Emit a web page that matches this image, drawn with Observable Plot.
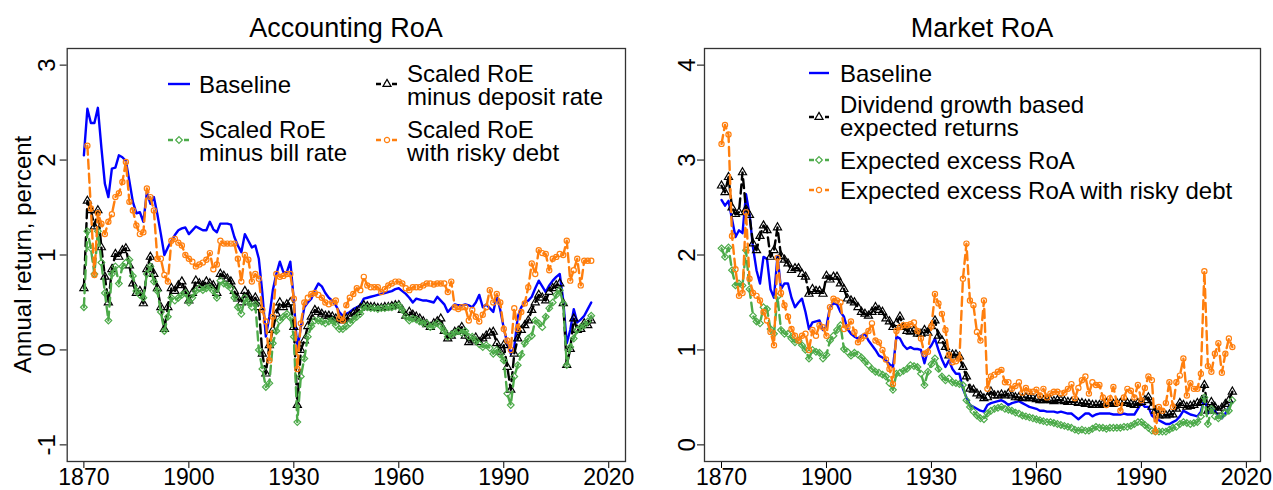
<!DOCTYPE html>
<html><head><meta charset="utf-8">
<script src="https://cdn.jsdelivr.net/npm/d3@7"></script>
<script src="https://cdn.jsdelivr.net/npm/@observablehq/plot@0.6"></script>
<style>
body{margin:0;background:#fff;}
#wrap{display:flex;width:1273px;height:490px;overflow:hidden;}
#wrap svg{font-family:"Liberation Sans",Arial,sans-serif;display:block;overflow:visible;}
</style></head><body><div id="wrap"></div>
<script>
// ---------- DATA ----------
const xTicks = [1870, 1900, 1930, 1960, 1990, 2020];
const accYTicks = [-1, 0, 1, 2, 3];
const mktYTicks = [0, 1, 2, 3, 4];

// Accounting RoA, annual 1870-2015
const accStart = 1870;
const accBaseline = [
 2.05,2.54,2.39,2.39,2.55,2.13,1.75,1.61,1.91,1.92,
 2.05,2.03,1.99,1.78,1.56,1.44,1.45,1.35,1.66,1.54,
 1.61,1.43,1.22,1.00,1.08,1.15,1.21,1.26,1.28,1.29,
 1.22,1.26,1.30,1.28,1.26,1.26,1.35,1.27,1.24,1.33,
 1.33,1.33,1.32,1.19,1.10,1.03,1.22,1.15,1.08,1.10,
 0.96,0.60,0.14,0.35,0.63,0.80,0.93,0.82,0.82,0.93,
 0.52,0.00,0.24,0.45,0.50,0.54,0.63,0.70,0.67,0.60,
 0.55,0.52,0.47,0.40,0.36,0.38,0.40,0.43,0.45,0.47,
 0.54,0.55,0.56,0.57,0.58,0.59,0.60,0.61,0.62,0.64,
 0.65,0.62,0.59,0.55,0.50,0.54,0.53,0.52,0.52,0.51,
 0.50,0.56,0.52,0.48,0.40,0.44,0.48,0.47,0.47,0.48,
 0.47,0.45,0.50,0.58,0.45,0.48,0.44,0.40,0.57,0.42,
 0.23,0.07,-0.04,0.03,0.35,0.45,0.50,0.52,0.56,0.65,
 0.73,0.67,0.61,0.68,0.73,0.77,0.80,0.52,0.07,0.21,
 0.43,0.29,0.32,0.36,0.43,0.50];
const accDeposit = [
 0.65,1.57,1.47,1.30,1.47,1.08,0.77,0.50,0.85,1.01,
 0.98,1.05,1.07,0.89,0.70,0.60,0.62,0.49,0.85,0.98,
 0.80,0.65,0.45,0.22,0.45,0.65,0.62,0.68,0.72,0.62,
 0.52,0.60,0.73,0.70,0.68,0.72,0.70,0.68,0.60,0.80,
 0.78,0.75,0.72,0.62,0.54,0.50,0.62,0.58,0.51,0.55,
 0.45,-0.04,-0.25,0.05,0.21,0.38,0.50,0.45,0.48,0.50,
 0.24,-0.58,0.00,0.10,0.25,0.35,0.42,0.40,0.38,0.36,
 0.36,0.35,0.33,0.32,0.31,0.33,0.35,0.38,0.40,0.44,
 0.47,0.46,0.45,0.45,0.44,0.44,0.45,0.45,0.46,0.47,
 0.47,0.42,0.36,0.40,0.37,0.35,0.33,0.30,0.27,0.24,
 0.28,0.30,0.33,0.20,0.12,0.15,0.19,0.20,0.24,0.15,
 0.08,0.10,0.13,0.08,0.12,0.15,0.18,0.19,0.07,-0.02,
 0.05,-0.18,-0.42,-0.04,0.12,0.21,0.26,0.31,0.42,0.50,
 0.58,0.55,0.52,0.61,0.65,0.68,0.70,0.49,-0.16,0.01,
 0.33,0.21,0.22,0.28,0.26,0.31];
const accBill = [
 0.45,1.25,1.07,0.80,1.25,0.92,0.60,0.31,0.80,0.88,
 0.70,0.88,0.92,0.95,0.78,0.62,0.58,0.55,0.80,0.88,
 0.72,0.62,0.40,0.20,0.35,0.55,0.52,0.55,0.58,0.60,
 0.50,0.55,0.62,0.65,0.63,0.65,0.66,0.62,0.55,0.73,
 0.70,0.68,0.65,0.55,0.45,0.38,0.55,0.50,0.45,0.48,
 0.00,-0.20,-0.39,-0.35,0.07,0.20,0.31,0.35,0.38,0.34,
 0.14,-0.76,-0.28,-0.09,0.14,0.25,0.31,0.31,0.30,0.28,
 0.30,0.31,0.26,0.22,0.22,0.25,0.28,0.32,0.35,0.38,
 0.45,0.45,0.44,0.44,0.43,0.44,0.44,0.45,0.45,0.46,
 0.47,0.42,0.35,0.31,0.33,0.32,0.30,0.28,0.28,0.24,
 0.26,0.28,0.25,0.20,0.14,0.16,0.18,0.20,0.18,0.20,
 0.14,0.14,0.10,0.06,0.03,0.05,0.02,-0.04,0.00,-0.05,
 -0.11,-0.46,-0.58,-0.28,-0.16,-0.05,0.07,0.12,0.15,0.31,
 0.28,0.24,0.35,0.44,0.50,0.58,0.63,0.49,-0.16,0.03,
 0.12,0.21,0.24,0.26,0.30,0.36];
const accRiskyStart = 1871;
const accRisky = [
 2.15,1.49,0.79,1.44,1.33,1.22,1.35,1.43,1.61,
 1.65,1.77,1.98,1.56,1.47,1.31,1.22,1.24,1.70,1.61,
 1.47,0.96,0.96,0.79,0.72,1.15,1.17,1.13,1.10,1.00,
 0.96,0.93,0.88,0.90,0.92,0.95,1.02,0.85,0.90,1.15,
 1.12,1.12,1.12,1.12,0.96,0.72,1.00,0.95,0.72,0.80,
 0.75,0.42,0.30,-0.11,0.35,0.80,0.77,0.78,0.80,0.80,
 0.54,-0.20,0.28,0.50,0.55,0.59,0.60,0.58,0.55,0.50,
 0.48,0.50,0.52,0.33,0.31,0.47,0.55,0.59,0.65,0.63,
 0.77,0.68,0.66,0.66,0.66,0.61,0.64,0.68,0.70,0.72,
 0.72,0.70,0.65,0.63,0.66,0.66,0.66,0.68,0.70,0.70,
 0.69,0.70,0.70,0.70,0.61,0.72,0.45,0.43,0.45,0.45,
 0.31,0.42,0.35,0.30,0.37,0.45,0.63,0.50,0.59,0.50,
 0.22,0.10,0.00,0.44,0.22,0.40,0.49,0.66,0.91,0.80,
 1.05,1.02,1.01,0.84,0.96,0.98,1.01,1.00,1.15,0.73,
 0.84,0.96,0.68,0.94,0.94,0.94];

// Market RoA, annual 1870-2016
const mktStart = 1870;
const mktBaseline = [
 2.58,2.52,2.57,2.38,2.19,2.26,2.23,2.64,2.43,2.08,
 1.84,1.70,1.98,1.96,1.64,1.55,1.99,1.64,1.70,1.70,
 1.55,1.45,1.50,1.54,1.40,1.22,1.29,1.30,1.31,1.21,
 1.25,1.45,1.49,1.48,1.40,1.35,1.22,1.17,1.14,1.12,
 1.15,1.17,1.10,1.05,1.00,0.94,0.92,0.89,0.85,0.82,
 1.14,1.12,1.05,1.01,1.03,1.01,1.01,1.00,0.86,1.00,
 1.05,1.12,1.00,0.90,0.82,0.89,0.80,0.75,0.75,0.59,
 0.50,0.42,0.40,0.38,0.36,0.35,0.42,0.44,0.45,0.46,
 0.47,0.45,0.42,0.44,0.45,0.46,0.44,0.42,0.40,0.39,
 0.38,0.36,0.36,0.35,0.35,0.35,0.34,0.35,0.34,0.33,
 0.33,0.30,0.27,0.30,0.33,0.33,0.30,0.32,0.33,0.33,
 0.33,0.33,0.32,0.32,0.32,0.33,0.32,0.32,0.32,0.38,
 0.44,0.40,0.40,0.31,0.28,0.26,0.24,0.22,0.22,0.24,
 0.26,0.30,0.36,0.34,0.32,0.31,0.30,0.35,0.50,0.33,
 0.38,0.36,0.30,0.28,0.33,0.40,0.45];
const mktDividend = [
 2.73,2.66,2.82,2.50,2.43,2.45,2.87,2.48,2.42,2.12,
 2.05,2.20,2.31,2.26,1.98,2.05,2.29,1.99,1.95,1.91,
 1.84,1.86,1.86,1.80,1.77,1.59,1.64,1.62,1.62,1.59,
 1.78,1.74,1.77,1.77,1.70,1.64,1.54,1.52,1.50,1.45,
 1.40,1.38,1.36,1.40,1.45,1.42,1.40,1.33,1.30,1.24,
 1.28,1.35,1.24,1.20,1.19,1.20,1.17,1.17,1.21,1.18,
 1.25,1.31,1.15,1.10,1.03,0.94,0.95,0.95,0.93,0.82,
 0.72,0.59,0.58,0.54,0.52,0.49,0.50,0.56,0.52,0.52,
 0.53,0.52,0.54,0.52,0.50,0.50,0.49,0.50,0.49,0.49,
 0.48,0.47,0.47,0.48,0.47,0.46,0.47,0.47,0.46,0.45,
 0.45,0.45,0.44,0.44,0.43,0.43,0.42,0.42,0.42,0.43,
 0.44,0.44,0.43,0.44,0.44,0.44,0.44,0.43,0.42,0.44,
 0.45,0.47,0.50,0.40,0.36,0.31,0.32,0.31,0.32,0.32,
 0.38,0.44,0.42,0.40,0.41,0.42,0.44,0.45,0.63,0.36,
 0.45,0.40,0.36,0.39,0.43,0.47,0.56];
const mktExcess = [
 2.07,1.98,2.08,1.84,1.68,1.70,1.68,2.05,1.64,1.36,
 1.30,1.28,1.45,1.43,1.22,1.17,1.56,1.21,1.17,1.17,
 1.12,1.08,1.10,1.05,1.00,0.91,1.00,0.98,0.97,0.91,
 0.95,1.10,1.15,1.21,1.26,1.01,0.98,0.94,0.97,0.95,
 0.92,0.88,0.84,0.80,0.77,0.76,0.74,0.72,0.65,0.58,
 0.75,0.76,0.78,0.80,0.84,0.83,0.82,0.75,0.63,0.77,
 0.85,0.91,0.80,0.72,0.68,0.70,0.66,0.65,0.64,0.63,
 0.47,0.40,0.35,0.31,0.28,0.27,0.33,0.36,0.38,0.39,
 0.40,0.38,0.37,0.36,0.34,0.33,0.31,0.30,0.29,0.28,
 0.27,0.26,0.25,0.24,0.24,0.23,0.22,0.21,0.20,0.19,
 0.18,0.16,0.15,0.16,0.15,0.15,0.17,0.19,0.18,0.18,
 0.17,0.18,0.18,0.18,0.18,0.19,0.19,0.20,0.22,0.24,
 0.24,0.21,0.18,0.15,0.14,0.14,0.14,0.14,0.16,0.18,
 0.19,0.22,0.24,0.23,0.22,0.23,0.24,0.30,0.50,0.22,
 0.38,0.30,0.28,0.31,0.34,0.36,0.47];
const mktRisky = [
 3.17,3.37,3.27,2.20,1.85,1.57,1.60,2.45,1.75,1.60,
 1.57,1.52,1.40,1.31,1.19,1.05,1.97,1.60,1.47,1.35,
 1.22,1.15,1.10,1.15,1.17,1.00,1.21,1.15,1.26,1.24,
 1.15,1.45,1.54,1.52,1.50,1.22,1.24,1.30,1.19,1.08,
 1.12,1.15,1.20,1.28,1.10,1.08,1.00,0.90,0.80,0.64,
 1.20,1.24,1.26,1.26,1.27,1.29,1.20,1.12,0.96,0.98,
 1.25,1.59,1.49,1.38,1.21,0.95,0.87,0.88,0.91,1.75,
 2.12,1.52,1.47,1.19,1.10,1.52,0.59,0.72,0.74,0.77,
 0.79,0.66,0.66,0.59,0.62,0.66,0.55,0.60,0.56,0.56,
 0.58,0.52,0.59,0.50,0.54,0.56,0.56,0.54,0.55,0.59,
 0.64,0.49,0.60,0.68,0.72,0.54,0.66,0.63,0.63,0.50,
 0.42,0.49,0.61,0.44,0.36,0.50,0.59,0.57,0.50,0.63,
 0.47,0.60,0.72,0.68,0.14,0.40,0.36,0.44,0.66,0.40,
 0.66,0.73,0.91,0.52,0.65,0.59,0.59,0.75,1.83,0.83,
 0.77,0.96,1.07,0.76,0.96,1.12,1.03];

// ---------- STYLE ----------
const FONT = '"Liberation Sans", Arial, sans-serif';
const DASH = "9,5";
const C_BLUE = "#0000ff", C_BLACK = "#000000", C_GREEN = "#4dab4a", C_ORANGE = "#ff7f0e";

const rows = (start, vals) => vals.map((v, i) => ({year: start + i, v}));

function seriesMarks(s) {
  const m = [Plot.line(s.data, {x: "year", y: "v", stroke: s.stroke, strokeWidth: 2.4,
    strokeDasharray: s.dash || null})];
  if (s.symbol) m.push(Plot.dot(s.data, {x: "year", y: "v", symbol: s.symbol, r: s.r,
    stroke: s.stroke, fill: "none", strokeWidth: 1.2}));
  return m;
}

const symMap = {triangle: d3.symbolTriangle, diamond2: d3.symbolDiamond2, circle: d3.symbolCircle};

function panel(o) {
  const plot = Plot.plot({
    width: o.width, height: 490,
    marginLeft: o.ml, marginRight: o.mr, marginTop: 48, marginBottom: 29,
    style: {fontFamily: FONT, fontSize: "23px", color: "#000", background: "transparent", overflow: "visible"},
    x: {domain: o.xDomain, ticks: xTicks, tickSize: 7, tickPadding: 0,
        tickFormat: d => String(d), label: null},
    y: {domain: o.yDomain, ticks: o.yTicks, tickSize: 7, tickFormat: () => "", label: null},
    marks: [
      Plot.frame({stroke: "#333", strokeWidth: 1.3}),
      Plot.text(o.yTicks, {y: d => d, text: d => String(d), frameAnchor: "left", dx: o.ydx,
        rotate: -90, textAnchor: "middle", lineAnchor: "middle", fontSize: 24}),
      ...o.series.flatMap(seriesMarks)
    ]
  });
  const svg = d3.select(plot.tagName === "svg" ? plot : plot.querySelector("svg"));
  svg.append("text").attr("x", o.titleX).attr("y", 37).attr("text-anchor", "middle")
    .style("font-size", "27px").style("font-family", FONT).attr("fill", "#000").text(o.title);
  if (o.ylabel) {
    svg.append("text").attr("transform", `translate(31,254.5) rotate(-90)`)
      .attr("text-anchor", "middle").style("font-size", "24px").style("font-family", FONT)
      .attr("fill", "#000").text(o.ylabel);
  }
  const g = svg.append("g").attr("text-anchor", "start");
  for (const it of o.legend) {
    g.append("line").attr("x1", it.x1).attr("x2", it.x2).attr("y1", it.y).attr("y2", it.y)
      .attr("stroke", it.s.stroke).attr("stroke-width", 2.4)
      .attr("stroke-dasharray", it.s.dash ? "5,3" : null);
    if (it.s.symbol) {
      g.append("path").attr("transform", `translate(${(it.x1 + it.x2) / 2},${it.y})`)
        .attr("d", d3.symbol(symMap[it.s.symbol], Math.PI * it.s.r * it.s.r)())
        .attr("fill", "#fff").attr("stroke", it.s.stroke).attr("stroke-width", 1.2);
    }
    const t = g.append("text").attr("x", it.tx).attr("y", it.ty + 8.5).attr("text-anchor", "start")
      .style("font-size", "24px").style("font-family", FONT).attr("fill", "#000");
    it.lines.forEach((line, k) => {
      t.append("tspan").attr("x", it.tx).attr("dy", k === 0 ? 0 : 23.7).text(line);
    });
  }
  return plot;
}

const sAccBase = {data: rows(accStart, accBaseline), stroke: C_BLUE};
const sAccDep = {data: rows(accStart, accDeposit), stroke: C_BLACK, dash: DASH, symbol: "triangle", r: 3};
const sAccBill = {data: rows(accStart, accBill), stroke: C_GREEN, dash: DASH, symbol: "diamond2", r: 3};
const sAccRisky = {data: rows(accRiskyStart, accRisky), stroke: C_ORANGE, dash: DASH, symbol: "circle", r: 2.6};

const sMktBase = {data: rows(mktStart, mktBaseline), stroke: C_BLUE};
const sMktDiv = {data: rows(mktStart, mktDividend), stroke: C_BLACK, dash: DASH, symbol: "triangle", r: 3};
const sMktEx = {data: rows(mktStart, mktExcess), stroke: C_GREEN, dash: DASH, symbol: "diamond2", r: 3};
const sMktRisky = {data: rows(mktStart, mktRisky), stroke: C_ORANGE, dash: DASH, symbol: "circle", r: 2.6};

const left = panel({
  width: 637, ml: 66.7, mr: 12, ydx: -19.7,
  xDomain: [1865.23, 2024.79],
  yDomain: [-1.175, 3.175], yTicks: accYTicks,
  title: "Accounting RoA", titleX: 346, ylabel: "Annual return, percent",
  series: [sAccBase, sAccDep, sAccBill, sAccRisky],
  legend: [
    {s: sAccBase, x1: 168, x2: 190, y: 84, tx: 199, lines: ["Baseline"], ty: 84},
    {s: sAccBill, x1: 168, x2: 190, y: 140, tx: 199, lines: ["Scaled RoE", "minus bill rate"], ty: 129},
    {s: sAccDep, x1: 376, x2: 398, y: 84, tx: 407, lines: ["Scaled RoE", "minus deposit rate"], ty: 73},
    {s: sAccRisky, x1: 376, x2: 398, y: 140, tx: 407, lines: ["Scaled RoE", "with risky debt"], ty: 129}
  ]
});
const right = panel({
  width: 636, ml: 67, mr: 13, ydx: -17.3,
  xDomain: [1865.14, 2024.04],
  yDomain: [-0.175, 4.175], yTicks: mktYTicks,
  title: "Market RoA", titleX: 345,
  series: [sMktBase, sMktDiv, sMktEx, sMktRisky],
  legend: [
    {s: sMktBase, x1: 172, x2: 192, y: 73, tx: 203, lines: ["Baseline"], ty: 73},
    {s: sMktDiv, x1: 172, x2: 192, y: 117, tx: 203, lines: ["Dividend growth based", "expected returns"], ty: 104},
    {s: sMktEx, x1: 172, x2: 192, y: 160, tx: 203, lines: ["Expected excess RoA"], ty: 160},
    {s: sMktRisky, x1: 172, x2: 192, y: 190, tx: 203, lines: ["Expected excess RoA with risky debt"], ty: 190}
  ]
});
document.getElementById("wrap").append(left, right);
</script></body></html>
